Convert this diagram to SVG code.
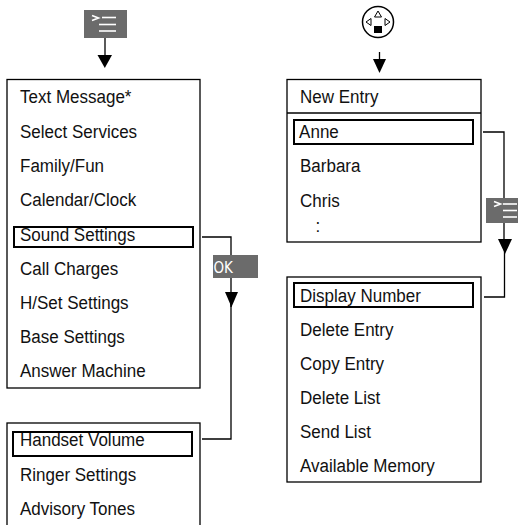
<svg xmlns="http://www.w3.org/2000/svg" width="522" height="525" viewBox="0 0 522 525">
<style>
.box{fill:#fff;stroke:#000;stroke-width:1.3}
.hl{fill:none;stroke:#000;stroke-width:2}
.t{font-family:"Liberation Sans",Arial,sans-serif;font-size:18.8px;fill:#111}
.ln{fill:none;stroke:#000;stroke-width:1.3}
.key{fill:#6b6b6b}
.kl{stroke:#fff;stroke-width:1.6;fill:none}
.ok{font-family:"DejaVu Sans",sans-serif;font-size:15px;fill:#fff}
</style>
<rect width="522" height="525" fill="#fff"/>

<g id="connectors">
  <line class="ln" x1="105" y1="37" x2="105" y2="57"/>
  <polygon points="97.5,55 112,55 104.8,68" fill="#000"/>
  <line class="ln" x1="379.5" y1="52" x2="379.5" y2="61"/>
  <polygon points="373,59 386,59 379.5,73" fill="#000"/>
  <polyline class="ln" points="202,237 231,237 231,307"/>
  <polygon points="225,292 238,292 231.5,307" fill="#000"/>
  <polyline class="ln" points="231,300 231,439 202,439"/>
  <polyline class="ln" points="483,132 504,132 504,240"/>
  <polygon points="498,239 512,239 505,254" fill="#000"/>
  <polyline class="ln" points="504.5,250 504.5,297 484,297"/>
</g>

<g id="key-menu-left">
  <rect class="key" x="84" y="10" width="43" height="28"/>
  <polyline class="kl" points="92,15.5 98.5,18 92,20.5" stroke-width="1.5"/>
  <line class="kl" x1="102" y1="17.5" x2="116" y2="17.5"/>
  <line class="kl" x1="99" y1="24.5" x2="116" y2="24.5"/>
  <line class="kl" x1="99" y1="31" x2="116" y2="31"/>
</g>

<g id="nav-key">
  <circle cx="378" cy="22" r="15.5" fill="#fff" stroke="#000" stroke-width="1.5"/>
  <polygon points="378,11 374.5,17 381.5,17" fill="#fff" stroke="#000" stroke-width="1"/>
  <polygon points="366,22 371,18.5 371,25.5" fill="#fff" stroke="#000" stroke-width="1"/>
  <polygon points="390,22 385,18.5 385,25.5" fill="#fff" stroke="#000" stroke-width="1"/>
  <rect x="374" y="26" width="8" height="7" fill="#000"/>
</g>

<g id="key-ok">
  <rect class="key" x="213" y="255" width="45" height="23"/>
  <text class="ok" x="213.5" y="273" transform="translate(213.5,273) scale(0.9,1) translate(-213.5,-273)">OK</text>
</g>

<g id="key-menu-right">
  <rect class="key" x="486" y="198" width="32" height="25"/>
  <polyline class="kl" points="494,201.5 500.5,204 494,206.5" stroke-width="1.5"/>
  <line class="kl" x1="503" y1="204" x2="517" y2="204"/>
  <line class="kl" x1="503" y1="210.5" x2="517" y2="210.5"/>
  <line class="kl" x1="503" y1="217" x2="517" y2="217"/>
</g>

<g id="main-menu">
  <rect class="box" x="7" y="79.5" width="193" height="308.5"/>
  <rect class="hl" x="14" y="227" width="179" height="20"/>
  <g transform="translate(20,0) scale(0.905,1)">
    <text class="t" x="0" y="103">Text Message*</text>
    <text class="t" x="0" y="138">Select Services</text>
    <text class="t" x="0" y="172">Family/Fun</text>
    <text class="t" x="0" y="206">Calendar/Clock</text>
    <text class="t" x="0" y="241">Sound Settings</text>
    <text class="t" x="0" y="275">Call Charges</text>
    <text class="t" x="0" y="309">H/Set Settings</text>
    <text class="t" x="0" y="343">Base Settings</text>
    <text class="t" x="0" y="377">Answer Machine</text>
  </g>
</g>

<g id="sound-menu">
  <rect class="box" x="7" y="423" width="193" height="110"/>
  <rect class="hl" x="13" y="432" width="179" height="24"/>
  <g transform="translate(20,0) scale(0.905,1)">
    <text class="t" x="0" y="446">Handset Volume</text>
    <text class="t" x="0" y="481">Ringer Settings</text>
    <text class="t" x="0" y="515">Advisory Tones</text>
  </g>
</g>

<g id="phonebook">
  <rect class="box" x="287" y="79.5" width="194" height="162.5"/>
  <line class="ln" x1="287" y1="113" x2="481" y2="113"/>
  <rect class="hl" x="294" y="120" width="179" height="24"/>
  <g transform="translate(300,0) scale(0.905,1)">
    <text class="t" x="0" y="103">New Entry</text>
    <text class="t" x="-1" y="138">Anne</text>
    <text class="t" x="0" y="172">Barbara</text>
    <text class="t" x="0" y="207">Chris</text>
    <text class="t" x="17" y="232">:</text>
  </g>
</g>

<g id="entry-menu">
  <rect class="box" x="287" y="277" width="194" height="205"/>
  <rect class="hl" x="294" y="283" width="179" height="24"/>
  <g transform="translate(300,0) scale(0.905,1)">
    <text class="t" x="0" y="302">Display Number</text>
    <text class="t" x="0" y="336">Delete Entry</text>
    <text class="t" x="0" y="370">Copy Entry</text>
    <text class="t" x="0" y="404">Delete List</text>
    <text class="t" x="0" y="438">Send List</text>
    <text class="t" x="0" y="472">Available Memory</text>
  </g>
</g>
</svg>
